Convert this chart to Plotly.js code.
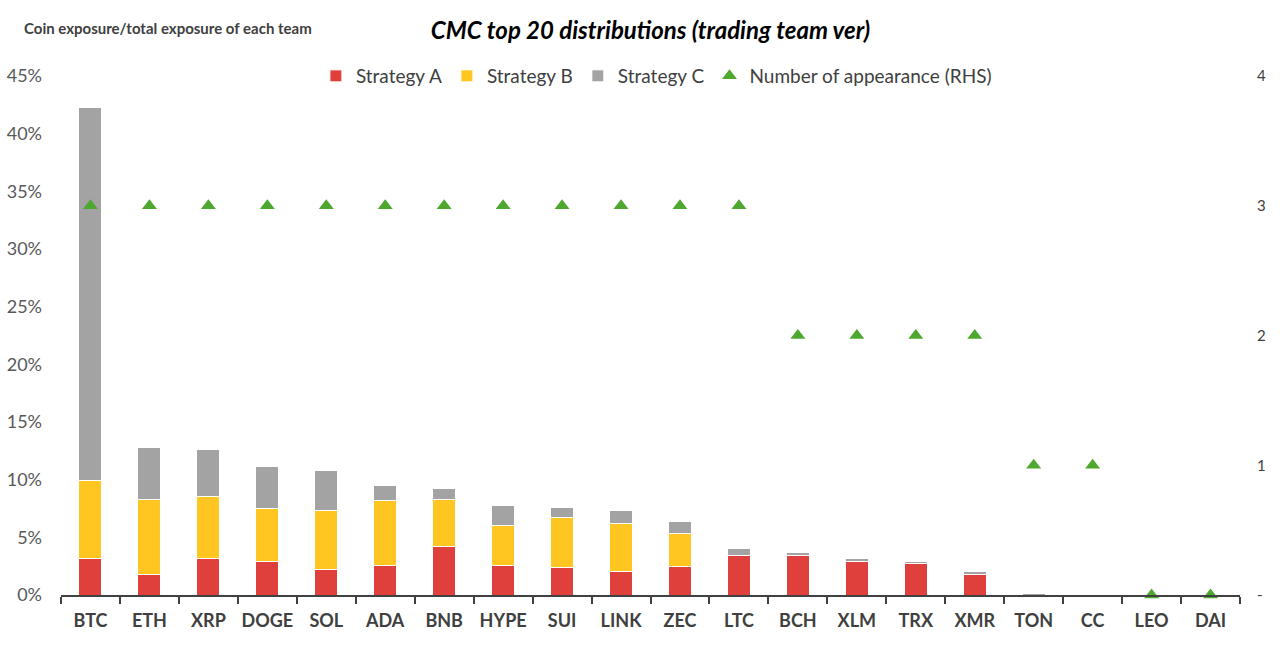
<!DOCTYPE html>
<html>
<head>
<meta charset="utf-8">
<script src="https://cdn.plot.ly/plotly-3.0.1.min.js"></script>
<style>
html,body{margin:0;padding:0;background:#fff;}
#chart{width:1280px;height:647px;}
</style>
</head>
<body>
<div id="chart"></div>
<script>
const coins = ['BTC','ETH','XRP','DOGE','SOL','ADA','BNB','HYPE','SUI','LINK','ZEC','LTC','BCH','XLM','TRX','XMR','TON','CC','LEO','DAI'];
const strategyA = [3.2,1.8,3.2,2.9,2.2,2.6,4.2,2.6,2.4,2.0,2.5,3.4,3.4,2.9,2.7,1.8,0,0,0,0];
const strategyB = [6.7,6.5,5.3,4.6,5.1,5.6,4.1,3.4,4.3,4.2,2.8,0,0,0,0,0,0,0,0,0];
const strategyC = [32.4,4.5,4.1,3.6,3.5,1.3,0.9,1.8,0.9,1.1,1.1,0.6,0.3,0.3,0.2,0.2,0.1,0,0,0];
const appearances = [3,3,3,3,3,3,3,3,3,3,3,3,2,2,2,2,1,1,0,0];
const leftTicks = [0,5,10,15,20,25,30,35,40,45];
const leftTickText = ['0%','5%','10%','15%','20%','25%','30%','35%','40%','45%'];
const rightTickVals = [0,1,2,3,4];
const rightTickText = ['-','1','2','3','4'];

const FONT = 'Lato, "Open Sans", sans-serif';
const barLine = {color:'#ffffff', width:1};

const traces = [
  {type:'bar', name:'Strategy A', x:coins, y:strategyA, marker:{color:'#E0403C', line:barLine}},
  {type:'bar', name:'Strategy B', x:coins, y:strategyB, marker:{color:'#FFC520', line:barLine}},
  {type:'bar', name:'Strategy C', x:coins, y:strategyC, marker:{color:'#A3A3A3', line:barLine}},
  {type:'scatter', mode:'markers', name:'Number of appearance (RHS)', x:coins, y:appearances, yaxis:'y2',
   cliponaxis:false, marker:{symbol:'triangle-up', size:13, color:'#4EA72E'}}
];

const layout = {
  width:1280, height:647,
  margin:{l:61, r:40, t:76, b:52, autoexpand:false},
  paper_bgcolor:'#ffffff', plot_bgcolor:'#ffffff',
  barmode:'stack', bargap:0.61,
  font:{family:FONT, color:'#404040'},
  showlegend:true,
  legend:{orientation:'h', x:0.505, xanchor:'center', y:1.0, yanchor:'middle',
          font:{size:19, color:'#404040', family:FONT}, bgcolor:'rgba(0,0,0,0)', traceorder:'normal'},
  xaxis:{type:'category', range:[-0.5,19.5], automargin:false, tickangle:0,
         showline:true, linecolor:'#404040', linewidth:2,
         ticks:'outside', tickson:'boundaries', ticklen:7, tickwidth:2, tickcolor:'#404040',
         showgrid:false, zeroline:false, ticklabelstandoff:8,
         tickfont:{size:18, color:'#404040', family:FONT, weight:'bold'}},
  yaxis:{range:[0,45], automargin:false, tickmode:'array', tickvals:leftTicks, ticktext:leftTickText,
         showgrid:false, zeroline:false, showline:false, ticks:'', ticklabelstandoff:18,
         tickfont:{size:18, color:'#595959', family:FONT}},
  yaxis2:{overlaying:'y', side:'right', automargin:false, range:[0,4], tickmode:'array',
          tickvals:rightTickVals, ticktext:rightTickText,
          showgrid:false, zeroline:false, showline:false, ticks:'', ticklabelstandoff:16,
          tickfont:{size:15, color:'#404040', family:FONT}},
  title:{text:'<b><i>CMC top 20 distributions (trading team ver)</i></b>', x:0.5, xanchor:'center',
         xref:'paper', y:0.953, yanchor:'middle', font:{size:24, color:'#000000', family:FONT}},
  annotations:[{text:'<b>Coin exposure/total exposure of each team</b>', xref:'paper', yref:'paper',
                x:-0.033, xanchor:'left', y:1.093, yanchor:'middle', showarrow:false,
                font:{size:15, color:'#404040', family:FONT}}]
};

Plotly.newPlot('chart', traces, layout, {displayModeBar:false, staticPlot:true});
</script>
</body>
</html>
